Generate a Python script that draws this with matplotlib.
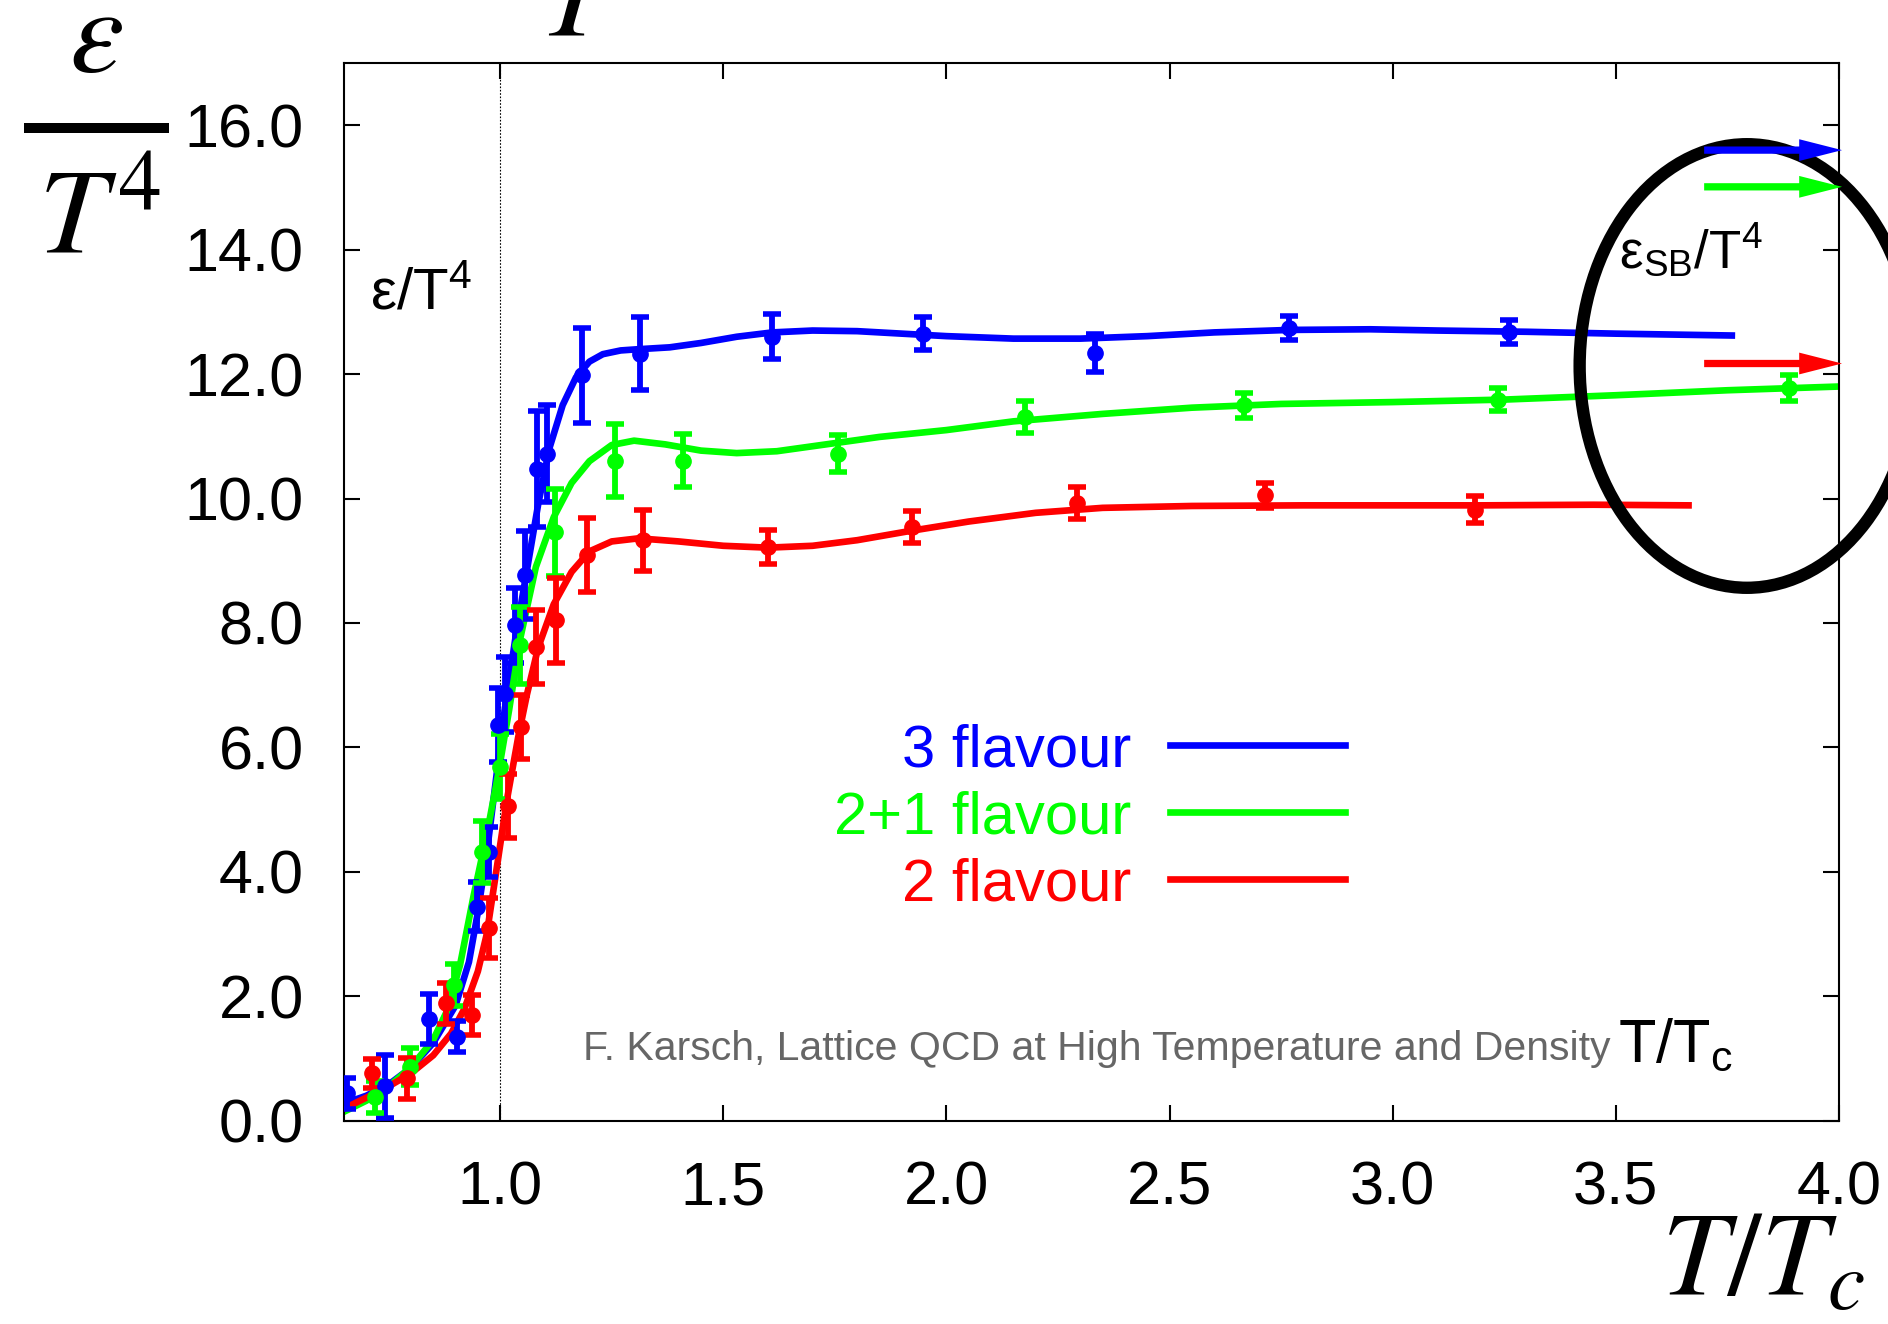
import matplotlib

matplotlib.use("Agg")
import matplotlib.pyplot as plt
from matplotlib.lines import Line2D
from matplotlib.patches import Ellipse, FancyArrow

plt.rcParams["font.family"] = ["Liberation Sans", "DejaVu Sans"]
plt.rcParams["mathtext.fontset"] = "custom"
plt.rcParams["mathtext.rm"] = "Liberation Sans"
plt.rcParams["mathtext.it"] = "Liberation Sans:italic"
plt.rcParams["mathtext.bf"] = "Liberation Sans:bold"

# lattice data: T/Tc, eps/T^4, error
t_3f = [0.657, 0.743, 0.840, 0.903, 0.948, 0.974, 0.996, 1.011, 1.034, 1.056,
        1.082, 1.105, 1.183, 1.313, 1.609, 1.947, 2.332, 2.767, 3.260]
e_3f = [0.44, 0.55, 1.63, 1.35, 3.44, 4.32, 6.36, 6.85, 7.96, 8.77,
        10.48, 10.72, 11.98, 12.33, 12.60, 12.65, 12.34, 12.74, 12.68]
d_3f = [0.25, 0.50, 0.40, 0.25, 0.39, 0.40, 0.60, 0.60, 0.60, 0.70,
        0.93, 0.78, 0.76, 0.59, 0.36, 0.27, 0.30, 0.20, 0.19]

t_21f = [0.720, 0.799, 0.896, 0.959, 1.000, 1.045, 1.123, 1.257, 1.409,
         1.758, 2.176, 2.667, 3.236, 3.889]
e_21f = [0.38, 0.87, 2.18, 4.32, 5.69, 7.64, 9.46, 10.61, 10.61,
         10.72, 11.31, 11.50, 11.59, 11.77]
d_21f = [0.25, 0.30, 0.33, 0.50, 0.52, 0.62, 0.70, 0.58, 0.43,
         0.30, 0.26, 0.20, 0.19, 0.21]

t_2f = [0.712, 0.791, 0.878, 0.937, 0.975, 1.017, 1.047, 1.080, 1.125,
        1.194, 1.321, 1.601, 1.923, 2.293, 2.713, 3.185]
e_2f = [0.76, 0.68, 1.89, 1.70, 3.10, 5.06, 6.33, 7.61, 8.04,
        9.09, 9.33, 9.22, 9.54, 9.93, 10.05, 9.82]
d_2f = [0.23, 0.33, 0.33, 0.32, 0.48, 0.51, 0.51, 0.59, 0.68,
        0.59, 0.49, 0.28, 0.26, 0.26, 0.20, 0.22]

# fitted curves
fit_t_3f = [0.652, 0.70, 0.75, 0.80, 0.85, 0.90, 0.93, 0.95, 0.97, 0.99, 1.01,
            1.035, 1.06, 1.085, 1.11, 1.14, 1.17, 1.20, 1.23, 1.27, 1.31, 1.38,
            1.45, 1.53, 1.61, 1.70, 1.80, 1.90, 2.00, 2.15, 2.30, 2.45, 2.60,
            2.77, 2.95, 3.10, 3.30, 3.50, 3.76]
fit_e_3f = [0.28, 0.40, 0.58, 0.85, 1.25, 1.85, 2.55, 3.35, 4.30, 5.45, 6.60,
            7.80, 8.85, 9.90, 10.80, 11.50, 11.95, 12.20, 12.32, 12.38, 12.40, 12.43,
            12.50, 12.60, 12.67, 12.70, 12.69, 12.65, 12.61, 12.57, 12.57, 12.61, 12.67,
            12.71, 12.72, 12.70, 12.68, 12.65, 12.62]

fit_t_21f = [0.652, 0.70, 0.75, 0.80, 0.85, 0.88, 0.91, 0.94, 0.97, 0.995, 1.02,
             1.045, 1.08, 1.12, 1.16, 1.20, 1.25, 1.30, 1.37, 1.45, 1.53, 1.62,
             1.72, 1.85, 2.00, 2.15, 2.35, 2.55, 2.75, 3.00, 3.25, 3.50, 3.75, 4.00]
fit_e_21f = [0.15, 0.32, 0.55, 0.86, 1.30, 1.75, 2.50, 3.60, 4.60, 5.55, 6.60,
             7.75, 8.90, 9.70, 10.25, 10.60, 10.86, 10.93, 10.87, 10.77, 10.73, 10.76,
             10.86, 10.99, 11.10, 11.24, 11.36, 11.46, 11.52, 11.55, 11.59, 11.66, 11.74, 11.80]

fit_t_2f = [0.652, 0.70, 0.75, 0.80, 0.85, 0.89, 0.92, 0.95, 0.97, 0.99, 1.015,
            1.04, 1.06, 1.085, 1.12, 1.16, 1.20, 1.25, 1.31, 1.40, 1.50, 1.60,
            1.70, 1.80, 1.92, 2.05, 2.20, 2.35, 2.55, 2.80, 3.20, 3.45, 3.663]
fit_e_2f = [0.20, 0.37, 0.55, 0.76, 1.05, 1.40, 1.80, 2.40, 3.00, 3.95, 5.15,
            6.15, 6.85, 7.60, 8.30, 8.82, 9.15, 9.31, 9.36, 9.31, 9.24, 9.21,
            9.24, 9.33, 9.48, 9.63, 9.77, 9.85, 9.88, 9.89, 9.89, 9.90, 9.89]

# Stefan-Boltzmann limits (arrows on the right)
sb_3f, sb_21f, sb_2f = 15.60, 15.01, 12.17

labels = ["3 flavour", "2+1 flavour", "2 flavour"]
colors = ["#0000ff", "#00ff00", "#ff0000"]

fig = plt.figure(figsize=(18.88, 13.24), dpi=100)
ax = fig.add_axes([0.1822, 0.1536, 0.7918, 0.7988])

ax.axvline(1.0, color="black", lw=0.8, ls=(0, (1.5, 1.5)), zorder=1)

series = [
    (t_3f, e_3f, d_3f, fit_t_3f, fit_e_3f),
    (t_21f, e_21f, d_21f, fit_t_21f, fit_e_21f),
    (t_2f, e_2f, d_2f, fit_t_2f, fit_e_2f),
]
handles = []
for (t, e, d, ft, fe), lab, c in zip(series, labels, colors):
    ln, = ax.plot(ft, fe, color=c, lw=4.8, solid_joinstyle="round", zorder=2, label=lab)
    ax.errorbar(t, e, yerr=d, fmt="o", color=c, ms=11, elinewidth=4.2,
                capsize=6.5, capthick=4, zorder=3)
    handles.append(ln)

ax.set_xlim(0.65, 4.0)
ax.set_ylim(0, 17)
ax.set_xticks([1.0, 1.5, 2.0, 2.5, 3.0, 3.5, 4.0])
ax.set_xticklabels([f"{v:.1f}" for v in ax.get_xticks()])
ax.set_yticks([0, 2, 4, 6, 8, 10, 12, 14, 16])
ax.set_yticklabels([f"{v:.1f}" for v in ax.get_yticks()])
ax.tick_params(direction="in", length=11.3, width=1.5, top=True, right=True,
               labelsize=44, pad=29)
for sp in ax.spines.values():
    sp.set_linewidth(1.5)

leg = ax.legend(handles=handles, loc="center right", bbox_to_anchor=(0.6696, 0.2865),
                frameon=False, markerfirst=False, labelcolor="linecolor",
                fontsize=43, handlelength=2.93, handletextpad=0.65,
                labelspacing=0.2, borderpad=0, borderaxespad=0)

# SB limit arrows and the ellipse around them
for y, c in zip([sb_3f, sb_21f, sb_2f], colors):
    ax.add_patch(FancyArrow(3.698, y, 0.309, 0, width=0.117, head_width=0.35,
                            head_length=0.096, length_includes_head=True,
                            color=c, lw=0, clip_on=False, zorder=6))
ax.add_patch(Ellipse((3.794, 12.13), 0.75, 7.13, fill=False, ec="black",
                     lw=8.9, clip_on=False, zorder=5))
ax.text(3.507, 13.70, r"ε$_{\rm SB}$/T$^{4}$", fontsize=38, va="baseline")

ax.text(0.709, 13.06, r"ε/T$^{4}$", fontsize=42, va="baseline")
ax.text(1.186, 0.975, "F. Karsch, Lattice QCD at High Temperature and Density",
        fontsize=29.5, color="#666666", va="baseline")
ax.text(3.505, 0.95, r"T/T$_{\rm c}$", fontsize=44, va="baseline")

# big serif axis labels
fig.text(96 / 1888, 1 - 72 / 1324, r"$\varepsilon$", fontsize=88, ha="center",
         va="baseline", math_fontfamily="stix")
fig.add_artist(Line2D([24 / 1888, 169 / 1888], [1 - 128 / 1324] * 2, lw=7.2,
                      color="black", solid_capstyle="butt", transform=fig.transFigure))
fig.text(38 / 1888, 1 - 253 / 1324, r"$T^4$", fontsize=88, ha="left",
         va="baseline", math_fontfamily="stix")
fig.text(540 / 1888, 1 - 36 / 1324, r"$T^4$", fontsize=88, ha="left",
         va="baseline", math_fontfamily="stix")
fig.text(1661 / 1888, 1 - 1295 / 1324, r"$T/T_c$", fontsize=86, ha="left",
         va="baseline", math_fontfamily="stix")

fig.savefig("out.png", dpi=100)
